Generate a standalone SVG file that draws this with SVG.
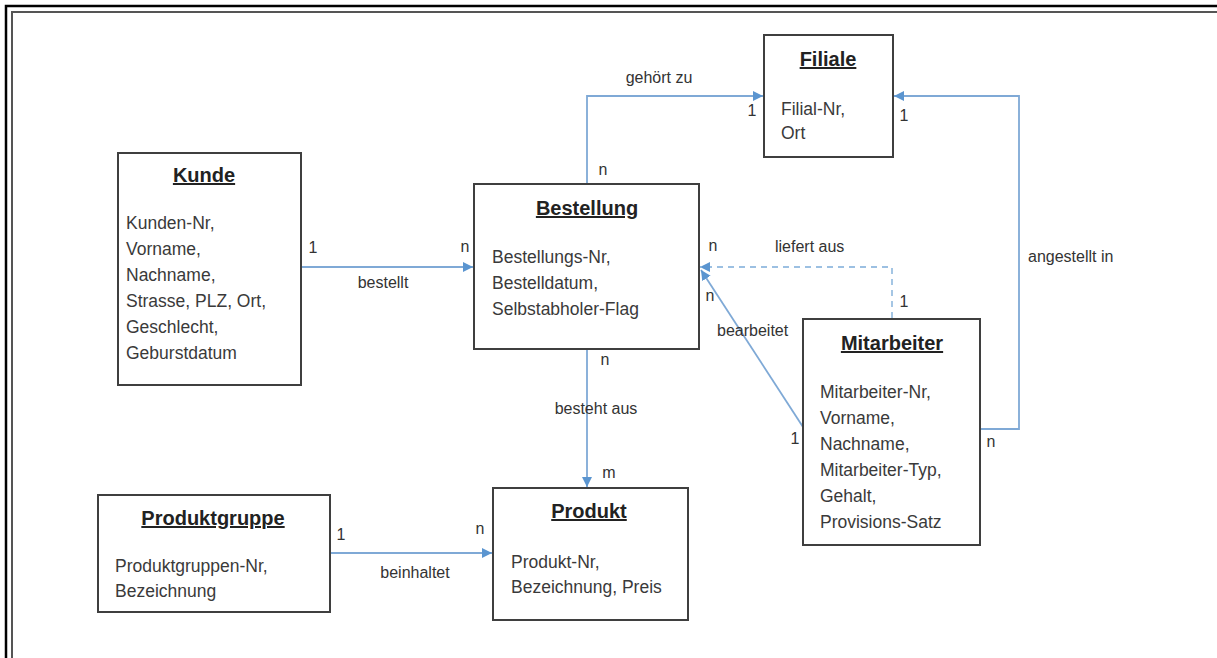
<svg xmlns="http://www.w3.org/2000/svg" width="1217" height="658" viewBox="0 0 1217 658">
<style>
.box{fill:#fff;stroke:#3f3f3f;stroke-width:2}
.title{font-family:"Liberation Sans",Arial,sans-serif;font-size:20px;font-weight:bold;fill:#222;text-anchor:middle;text-decoration:underline}
.attr{font-family:"Liberation Sans",Arial,sans-serif;font-size:17.5px;fill:#3a3a3a}
.lbl{font-family:"Liberation Sans",Arial,sans-serif;font-size:16px;fill:#333}
.mid{text-anchor:middle}
.con{fill:none;stroke:#7fa9d6;stroke-width:1.8}
.dash{stroke-dasharray:6 5;stroke:#9cc0e2}
</style>
<defs>
<marker id="arr" viewBox="0 0 10 10" refX="10" refY="5" markerWidth="10" markerHeight="10" markerUnits="userSpaceOnUse" orient="auto">
<path d="M0,0 L10,5 L0,10 z" fill="#5b95d0"/>
</marker>
</defs>
<rect width="1217" height="658" fill="#fff"/>
<g id="frame" fill="none">
<path d="M6,658 V6 H1217" stroke="#000" stroke-width="2.5"/>
<path d="M12,658 V12 H1217" stroke="#555" stroke-width="2"/>
</g>
<g id="connectors">
<path class="con" d="M587,184 V96 H763" marker-end="url(#arr)"/>
<path class="con" d="M980,429 H1019 V96 H894" marker-end="url(#arr)"/>
<path class="con" d="M301,267 H473" marker-end="url(#arr)"/>
<path class="con dash" d="M892,318 V267 H700" marker-end="url(#arr)"/>
<path class="con" d="M803,427 L701,270" marker-end="url(#arr)"/>
<path class="con" d="M587,349 V487" marker-end="url(#arr)"/>
<path class="con" d="M330,553 H492" marker-end="url(#arr)"/>
<text class="lbl mid" x="659" y="83">gehört zu</text>
<text class="lbl mid" x="752" y="116">1</text>
<text class="lbl mid" x="603" y="175">n</text>
<text class="lbl mid" x="904" y="121">1</text>
<text class="lbl" x="1028" y="262">angestellt in</text>
<text class="lbl mid" x="991" y="447">n</text>
<text class="lbl mid" x="795" y="444">1</text>
<text class="lbl" x="775" y="252">liefert aus</text>
<text class="lbl mid" x="713" y="251">n</text>
<text class="lbl mid" x="710" y="301">n</text>
<text class="lbl" x="717" y="336">bearbeitet</text>
<text class="lbl mid" x="904" y="307">1</text>
<text class="lbl mid" x="605" y="365">n</text>
<text class="lbl mid" x="596" y="414">besteht aus</text>
<text class="lbl mid" x="609" y="478">m</text>
<text class="lbl mid" x="313" y="253">1</text>
<text class="lbl mid" x="465" y="252">n</text>
<text class="lbl mid" x="383" y="288">bestellt</text>
<text class="lbl mid" x="341" y="540">1</text>
<text class="lbl mid" x="480" y="534">n</text>
<text class="lbl mid" x="415" y="578">beinhaltet</text>
</g>
<g id="filiale">
<rect class="box" x="764" y="35" width="129" height="122"/>
<text class="title" x="828" y="66">Filiale</text>
<text class="attr" x="781" y="115">Filial-Nr,</text>
<text class="attr" x="781" y="139">Ort</text>
</g>
<g id="kunde">
<rect class="box" x="118" y="153" width="183" height="232"/>
<text class="title" x="204" y="182">Kunde</text>
<text class="attr" x="126" y="229">Kunden-Nr,</text>
<text class="attr" x="126" y="255">Vorname,</text>
<text class="attr" x="126" y="281">Nachname,</text>
<text class="attr" x="126" y="307">Strasse, PLZ, Ort,</text>
<text class="attr" x="126" y="333">Geschlecht,</text>
<text class="attr" x="126" y="359">Geburstdatum</text>
</g>
<g id="bestellung">
<rect class="box" x="474" y="184" width="225" height="165"/>
<text class="title" x="587" y="215">Bestellung</text>
<text class="attr" x="492" y="263">Bestellungs-Nr,</text>
<text class="attr" x="492" y="289">Bestelldatum,</text>
<text class="attr" x="492" y="315">Selbstabholer-Flag</text>
</g>
<g id="mitarbeiter">
<rect class="box" x="803" y="319" width="177" height="226"/>
<text class="title" x="892" y="350">Mitarbeiter</text>
<text class="attr" x="820" y="398">Mitarbeiter-Nr,</text>
<text class="attr" x="820" y="424">Vorname,</text>
<text class="attr" x="820" y="450">Nachname,</text>
<text class="attr" x="820" y="476">Mitarbeiter-Typ,</text>
<text class="attr" x="820" y="502">Gehalt,</text>
<text class="attr" x="820" y="528">Provisions-Satz</text>
</g>
<g id="produktgruppe">
<rect class="box" x="98" y="495" width="232" height="117"/>
<text class="title" x="213" y="525">Produktgruppe</text>
<text class="attr" x="115" y="572">Produktgruppen-Nr,</text>
<text class="attr" x="115" y="597">Bezeichnung</text>
</g>
<g id="produkt">
<rect class="box" x="493" y="488" width="195" height="132"/>
<text class="title" x="589" y="518">Produkt</text>
<text class="attr" x="511" y="568">Produkt-Nr,</text>
<text class="attr" x="511" y="593">Bezeichnung, Preis</text>
</g>
</svg>
